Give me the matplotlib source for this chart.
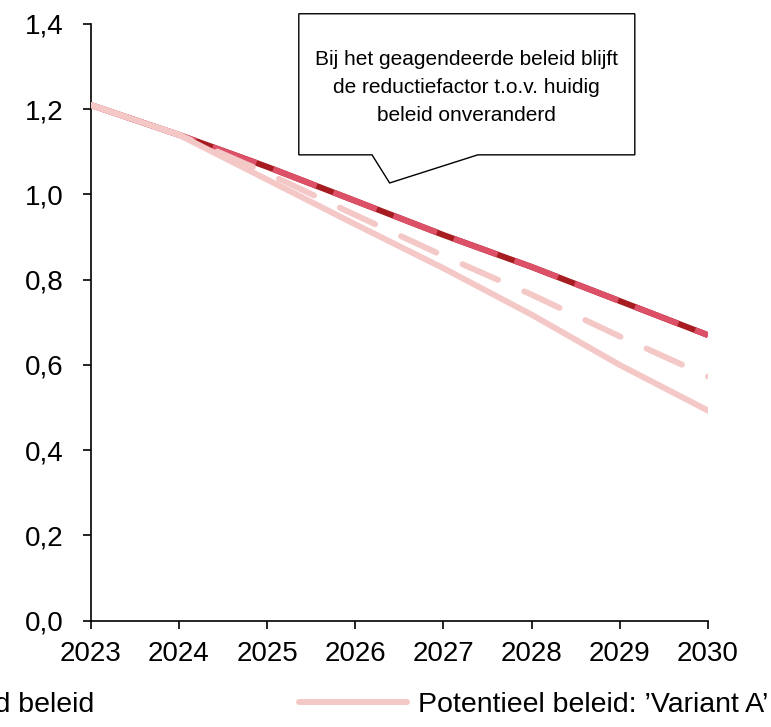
import matplotlib
matplotlib.use("Agg")
import matplotlib.pyplot as plt
from matplotlib.patches import Polygon
from matplotlib.lines import Line2D

plt.rcParams['font.family'] = ['Liberation Sans', 'DejaVu Sans']

# data
jaren = [2023, 2024, 2025, 2026, 2027, 2028, 2029, 2030]
huidig = [1.21, 1.14, 1.065, 0.985, 0.905, 0.83, 0.75, 0.67]
geagendeerd = [1.21, 1.14, 1.065, 0.985, 0.905, 0.83, 0.75, 0.67]
variant_a = [1.21, 1.14, 1.035, 0.93, 0.827, 0.718, 0.60, 0.493]
variant_b = [1.21, 1.14, 1.05, 0.952, 0.856, 0.765, 0.667, 0.573]
labels = ["Geagendeerd beleid", "Huidig beleid",
          "Potentieel beleid: \u2019Variant A\u2019", "Potentieel beleid: \u2019Variant B\u2019"]
yticks = [0.0, 0.2, 0.4, 0.6, 0.8, 1.0, 1.2, 1.4]
tekst = "Bij het geagendeerde beleid blijft\nde reductiefactor t.o.v. huidig\nbeleid onveranderd"

donker = "#A61C20"
rood = "#DC5068"
licht = "#F5C8C8"

fig = plt.figure(figsize=(7.71, 7.27), dpi=100)
ax = fig.add_axes([0.1176, 0.1462, 0.8007, 0.8208])

lw = 4.3
ax.plot(jaren, huidig, color=donker, lw=lw, solid_capstyle='butt', zorder=2)
ax.plot(jaren, geagendeerd, color=rood, lw=lw, dashes=(7.8, 3.0),
        dash_capstyle='butt', zorder=3)
ax.plot(jaren, variant_b, color=licht, lw=lw, dashes=(6.5, 4.8),
        dash_capstyle='round', zorder=4)
ax.plot(jaren, variant_a, color=licht, lw=lw, solid_capstyle='round', zorder=5)

ax.set_xlim(2023, 2030)
ax.set_ylim(0, 1.4)
ax.set_xticks(jaren)
ax.set_yticks(yticks)
ax.set_yticklabels([f"{v:.1f}".replace(".", ",") for v in yticks])
for s in ["top", "right"]:
    ax.spines[s].set_visible(False)
for s in ["left", "bottom"]:
    ax.spines[s].set_linewidth(1.2)
ax.tick_params(axis='both', labelsize=20, width=1.2, length=5.5, direction='out')
ax.tick_params(axis='y', pad=14)
ax.tick_params(axis='x', pad=9)

# tekstballon
ballon = Polygon([(2025.36, 1.424), (2029.17, 1.424), (2029.17, 1.093),
                  (2027.39, 1.093), (2026.39, 1.027), (2026.19, 1.093),
                  (2025.36, 1.093)], closed=True, facecolor='white',
                 edgecolor='black', lw=1.0, clip_on=False, zorder=6)
ax.add_patch(ballon)
ax.text(2027.265, 1.25, tekst, ha='center', va='center', fontsize=15,
        linespacing=1.6, zorder=7)

h1 = Line2D([], [], color=donker, lw=lw)
h2 = Line2D([], [], color=rood, lw=lw, dashes=(7.8, 3.0))
h3 = Line2D([], [], color=licht, lw=lw, solid_capstyle='round')
h4 = Line2D([], [], color=licht, lw=lw, dashes=(6.5, 4.8), dash_capstyle='round')
fig.legend([h2, h1, h3, h4], labels, ncol=2, loc='upper left',
           bbox_to_anchor=(-0.367, 0.048), frameon=False, fontsize=20.5,
           handlelength=3.8, handletextpad=0.39, columnspacing=7.17,
           borderaxespad=0, borderpad=0)

fig.savefig("out.png", dpi=100)
